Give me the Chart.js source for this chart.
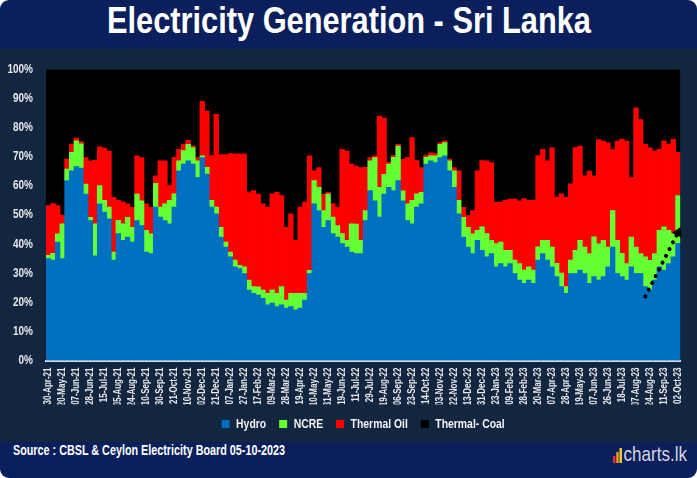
<!DOCTYPE html>
<html>
<head>
<meta charset="utf-8">
<script src="https://cdn.jsdelivr.net/npm/chart.js@4.4.1/dist/chart.umd.min.js"></script>
<style>
  html, body { margin: 0; padding: 0; background: #fff; }
  #wrap { position: relative; width: 697px; height: 478px; overflow: hidden; background: #fff; }
  #body { position: absolute; left: 0; top: 40px; width: 697px; height: 412px; background: #13263f; }
  #title {
    position: absolute; left: 0; top: 0; width: 697px; height: 49px;
    background: #0b1f5c; border-radius: 9px 9px 0 0;
    color: #fff; text-align: center; line-height: 50px;
  }
  #title span { display: inline-block; font: bold 37px "Liberation Sans", Arial, sans-serif; transform-origin: center; }
  #footer {
    position: absolute; left: 0; top: 442px; width: 697px; height: 36px;
    background: #0b1f5c; border-radius: 0 0 9px 9px; color: #fff;
  }
  #source {
    position: absolute; left: 13px; top: 0; line-height: 35px; white-space: nowrap;
    font: bold 14px "Liberation Sans", Arial, sans-serif; transform-origin: left center;
  }
  #logo {
    position: absolute; left: 613px; top: 0; line-height: 35px; color: #d4d6dc; white-space: nowrap;
    font: 21px "Liberation Sans", Arial, sans-serif; transform-origin: left center;
  }
  #logo i { display: inline-block; width: 3px; margin-right: 1px; vertical-align: -2px; }
  #chartBox { position: absolute; left: 0; top: 49px; width: 697px; height: 393px; }
</style>
</head>
<body>
<div id="wrap">
  <div id="body"></div>
  <div id="title"><span id="titleText">Electricity Generation - Sri Lanka</span></div>
  <div id="chartBox"><canvas id="chart"></canvas></div>
  <div id="footer">
    <div id="source">Source : CBSL &amp; Ceylon Electricity Board 05-10-2023</div>
    <div id="logo"><i style="height:7px;background:#e8312a"></i><i style="height:11px;background:#f39a1e"></i><i style="height:15px;background:#f6d12b;margin-right:2px"></i>charts.lk</div>
  </div>
</div>
<script>
// x-axis tick labels, one every 3 points
const tickLabels = [
  '30-Apr-21', '20-May-21', '07-Jun-21', '28-Jun-21', '15-Jul-21', '05-Aug-21', '24-Aug-21',
  '10-Sep-21', '30-Sep-21', '21-Oct-21', '10-Nov-21', '02-Dec-21', '21-Dec-21',
  '07-Jan-22', '27-Jan-22', '17-Feb-22', '09-Mar-22', '28-Mar-22', '19-Apr-22', '10-May-22',
  '31-May-22', '19-Jun-22', '11-Jul-22', '29-Jul-22', '19-Aug-22', '06-Sep-22', '23-Sep-22',
  '14-Oct-22', '03-Nov-22', '22-Nov-22', '13-Dec-22', '31-Dec-22',
  '23-Jan-23', '09-Feb-23', '28-Feb-23', '20-Mar-23', '07-Apr-23', '28-Apr-23', '19-May-23',
  '07-Jun-23', '26-Jun-23', '18-Jul-23', '07-Aug-23', '24-Aug-23', '11-Sep-23', '02-Oct-23'
];
const pointsPerTick = 3;

// share of generation, %
const hydro = [
  35.0, 34.5, 40.7, 35.0, 61.8, 65.2, 66.6, 66.1, 57.2, 48.1,
  36.0, 53.8, 51.0, 48.7, 34.5, 43.6, 41.3, 42.4, 40.7, 48.1,
  46.4, 37.3, 36.7, 52.7, 49.3, 48.1, 47.0, 52.7, 65.2, 67.5,
  68.6, 67.5, 62.9, 69.7, 64.1, 52.7, 50.4, 42.4, 39.0, 35.6,
  32.2, 31.6, 29.9, 24.2, 23.1, 22.5, 21.4, 19.1, 19.7, 18.5,
  19.1, 18.0, 18.5, 17.4, 18.0, 20.8, 29.9, 53.8, 51.5, 45.8,
  48.1, 43.6, 42.4, 40.2, 39.0, 37.3, 36.7, 36.7, 48.1, 58.4,
  54.9, 49.3, 57.2, 59.5, 58.4, 61.8, 54.9, 48.1, 47.0, 52.7,
  53.8, 67.5, 68.6, 68.0, 69.7, 70.3, 65.2, 59.5, 50.4, 42.4,
  39.0, 36.7, 41.3, 37.9, 35.6, 36.7, 32.2, 33.3, 32.2, 33.3,
  29.9, 27.6, 26.5, 27.6, 26.5, 34.5, 36.7, 34.5, 32.2, 28.8,
  25.4, 23.1, 29.9, 29.9, 31.1, 29.9, 26.5, 28.8, 27.6, 28.8,
  32.2, 39.0, 29.9, 28.8, 27.6, 32.2, 29.9, 29.9, 25.4, 24.2,
  27.6, 32.2, 31.1, 33.3, 35.6, 40.2
];
const ncre = [
  1.1, 2.3, 2.8, 12.0, 4.0, 6.3, 8.9, 8.4, 3.4, 1.1,
  11.0, 6.3, 4.0, 4.0, 2.8, 4.6, 5.7, 6.8, 5.1, 9.1,
  8.5, 7.4, 6.8, 8.2, 3.4, 5.7, 8.0, 4.6, 3.4, 4.6,
  5.7, 5.7, 5.7, 0.6, 2.3, 2.3, 2.3, 3.4, 1.7, 1.7,
  2.3, 1.1, 2.3, 3.4, 2.3, 2.8, 2.8, 4.0, 4.6, 4.6,
  6.3, 2.8, 4.6, 5.7, 5.1, 2.3, 1.1, 8.0, 8.0, 5.7,
  9.1, 5.7, 4.0, 3.4, 2.3, 9.7, 10.2, 4.6, 3.4, 10.2,
  14.8, 10.2, 6.8, 8.0, 11.4, 11.9, 3.4, 5.7, 8.0, 4.6,
  4.0, 2.3, 1.7, 2.3, 4.6, 4.6, 3.4, 5.7, 4.6, 6.8,
  6.8, 6.8, 3.4, 8.0, 8.0, 4.6, 8.0, 7.4, 5.7, 4.6,
  4.6, 5.7, 4.6, 4.6, 4.6, 4.6, 4.6, 6.8, 6.8, 4.6,
  4.6, 2.3, 4.6, 8.0, 10.2, 9.1, 10.2, 13.7, 12.5, 12.5,
  6.8, 12.5, 11.4, 8.0, 5.7, 10.2, 9.1, 6.8, 10.2, 10.2,
  9.1, 12.5, 14.8, 11.4, 8.0, 16.5
];
const thermalOil = [
  17.1, 17.1, 9.7, 3.0, 3.4, 2.8, 0.9, 0.7, 9.1, 19.3,
  21.8, 13.3, 18.0, 19.3, 18.8, 6.8, 7.4, 4.6, 6.8, 13.1,
  14.8, 9.1, 9.1, 2.6, 15.9, 14.8, 5.1, 12.5, 4.0, 2.3,
  1.4, 0.6, 1.1, 18.8, 19.3, 15.4, 31.9, 25.0, 30.1, 33.8,
  36.4, 38.3, 38.7, 30.1, 33.0, 31.9, 29.6, 29.6, 33.0, 34.7,
  31.3, 25.0, 27.3, 18.2, 29.6, 31.3, 39.3, 3.4, 6.8, 5.7,
  0.6, 4.6, 6.3, 29.0, 30.7, 20.5, 19.9, 25.0, 15.0, 1.1,
  0.6, 24.5, 19.3, 0.6, 0.6, 0.6, 10.8, 15.9, 21.6, 11.4,
  8.5, 0.6, 1.1, 0.8, 0.6, 0.6, 0.6, 1.1, 10.2, 3.4,
  4.0, 8.0, 20.5, 22.8, 25.0, 26.7, 14.2, 13.7, 17.1, 17.6,
  21.0, 21.6, 24.5, 22.8, 23.9, 31.3, 31.3, 27.3, 34.1, 22.8,
  27.3, 30.7, 26.2, 35.3, 32.4, 24.5, 28.4, 21.0, 35.8, 34.1,
  35.8, 21.0, 34.1, 39.3, 42.1, 20.5, 47.8, 46.1, 38.7, 38.7,
  35.3, 27.9, 29.6, 29.6, 32.4, 14.8
];
const thermalCoal = [
  46.8, 46.1, 46.8, 50.0, 30.8, 25.7, 23.6, 24.8, 30.3, 31.5,
  31.2, 26.6, 27.0, 28.0, 43.9, 45.0, 45.6, 46.2, 47.4, 29.7,
  30.3, 46.2, 47.4, 36.5, 31.4, 31.4, 39.9, 30.2, 27.4, 25.6,
  24.3, 26.2, 30.3, 10.9, 14.3, 29.6, 15.4, 29.2, 29.2, 28.9,
  29.1, 29.0, 29.1, 42.3, 41.6, 42.8, 46.2, 47.3, 42.7, 42.2,
  43.3, 54.2, 49.6, 58.7, 47.3, 45.6, 29.7, 34.8, 33.7, 42.8,
  42.2, 46.1, 47.3, 27.4, 28.0, 32.5, 33.2, 33.7, 33.5, 30.3,
  29.7, 16.0, 16.7, 31.9, 29.6, 25.7, 30.9, 30.3, 23.4, 31.3,
  33.7, 29.6, 28.6, 28.9, 25.1, 24.5, 30.8, 33.7, 34.8, 47.4,
  50.2, 48.5, 34.8, 31.3, 31.4, 32.0, 45.6, 45.6, 45.0, 44.5,
  44.5, 45.1, 44.4, 45.0, 45.0, 29.6, 27.4, 31.4, 26.9, 43.8,
  42.7, 43.9, 39.3, 26.8, 26.3, 36.5, 34.9, 36.5, 24.1, 24.6,
  25.2, 27.5, 24.6, 23.9, 24.6, 37.1, 13.2, 17.2, 25.7, 26.9,
  28.0, 27.4, 24.5, 25.7, 24.0, 28.5
];

// dotted trend arrow at the end: [point index, %]
const trendPoints = [[128, 22], [135, 44]];

const FONT = '"Liberation Sans", Arial, sans-serif';

// the original uses a condensed face, none is installed, so squeeze canvas text
const SQUEEZE = 0.8;
const ctxProto = CanvasRenderingContext2D.prototype;
const rawFillText = ctxProto.fillText;
const rawMeasureText = ctxProto.measureText;
ctxProto.fillText = function (text, x, y, maxWidth) {
  this.save();
  this.translate(x, y);
  this.scale(SQUEEZE, 1);
  if (maxWidth === undefined) rawFillText.call(this, text, 0, 0);
  else rawFillText.call(this, text, 0, 0, maxWidth / SQUEEZE);
  this.restore();
};
ctxProto.measureText = function (text) {
  const m = rawMeasureText.call(this, text);
  return {
    width: m.width * SQUEEZE,
    actualBoundingBoxLeft: m.actualBoundingBoxLeft * SQUEEZE,
    actualBoundingBoxRight: m.actualBoundingBoxRight * SQUEEZE,
    actualBoundingBoxAscent: m.actualBoundingBoxAscent,
    actualBoundingBoxDescent: m.actualBoundingBoxDescent
  };
};

// same trick for the html texts
function fitWidth(id, width) {
  const el = document.getElementById(id);
  el.style.transform = 'scaleX(' + (width / el.offsetWidth) + ')';
}
fitWidth('titleText', 484);
fitWidth('source', 272);
fitWidth('logo', 74);

const categories = hydro.map((v, i) => (i % pointsPerTick === 0 ? tickLabels[i / pointsPerTick] : ''));
const trend = hydro.map(() => null);
trendPoints.forEach(([i, v]) => { trend[i] = v; });

function barSet(label, data, color) {
  return {
    type: 'bar',
    label,
    data,
    backgroundColor: color,
    borderWidth: 0,
    barPercentage: 1,
    categoryPercentage: 1,
    order: 1
  };
}

new Chart(document.getElementById('chart'), {
  data: {
    labels: categories,
    datasets: [
      barSet('Hydro', hydro, '#0070c0'),
      barSet('NCRE', ncre, '#66ff33'),
      barSet('Thermal Oil', thermalOil, '#ff0000'),
      barSet('Thermal- Coal', thermalCoal, '#000000'),
      {
        type: 'line',
        label: 'trend',
        data: trend,
        stack: 'trend',
        order: 0,
        clip: false,
        spanGaps: true,
        borderColor: '#000',
        borderWidth: 4,
        borderDash: [0.1, 7.5],
        borderCapStyle: 'round',
        pointStyle: 'triangle',
        pointRadius: trend.map((v, i) => (i === trendPoints[1][0] ? 6 : 0)),
        pointRotation: 27,
        pointBackgroundColor: '#000',
        pointBorderWidth: 0
      }
    ]
  },
  options: {
    responsive: true,
    maintainAspectRatio: false,
    animation: false,
    layout: { padding: { top: 18, right: 15, left: 0, bottom: 1.5 } },
    scales: {
      x: {
        stacked: true,
        grid: { display: false, drawTicks: false },
        border: { display: true, color: '#d9dde3', width: 2 },
        ticks: {
          autoSkip: false,
          minRotation: 90,
          maxRotation: 90,
          padding: 7,
          color: '#e8e8ec',
          font: { family: FONT, size: 10, weight: 'bold' },
          callback: (v, i) => categories[i]
        },
        afterFit: (scale) => { scale.height = 44; }
      },
      y: {
        stacked: true,
        min: 0,
        max: 100,
        grid: { display: false, drawTicks: false },
        border: { display: false },
        ticks: {
          stepSize: 10,
          padding: 13,
          color: '#e8e8ec',
          font: { family: FONT, size: 12.5, weight: 'bold' },
          callback: (v) => v + '%'
        },
        afterFit: (scale) => { scale.width = 46; }
      }
    },
    plugins: {
      legend: {
        position: 'bottom',
        fullSize: false,
        labels: {
          boxWidth: 8,
          boxHeight: 8,
          padding: 13,
          color: '#f2f2f4',
          font: { family: FONT, size: 13, weight: 'bold' },
          filter: (item) => item.datasetIndex < 4
        }
      },
      tooltip: { enabled: false }
    }
  }
});
</script>
</body>
</html>
